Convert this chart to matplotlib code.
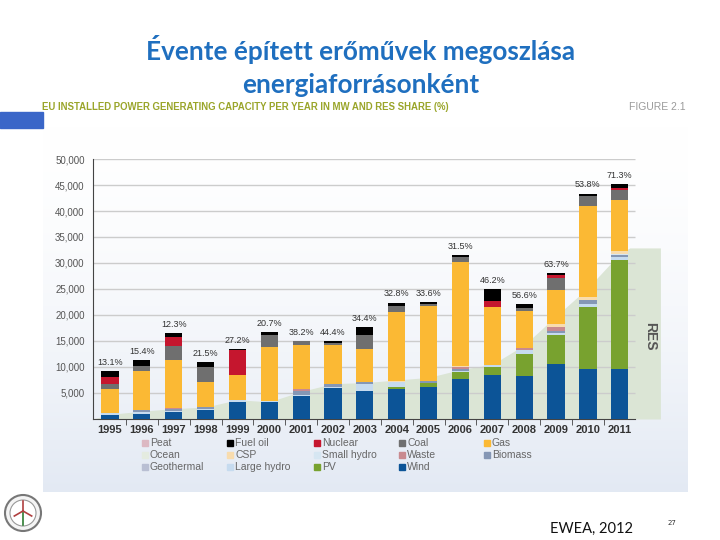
import numpy as np
import matplotlib.pyplot as plt
from matplotlib.patches import Rectangle, Circle

# -------------------------
# Data (MW installed per year)
# -------------------------
years = list(range(1995, 2012))

wind        = [814, 980, 1280, 1700, 3200, 3200, 4400, 5900, 5450, 5800, 6200, 7600, 8550, 8300, 10500, 9600, 9600]
pv          = [0, 0, 0, 0, 0, 0, 0, 0, 0, 300, 750, 1500, 1500, 4250, 5600, 12000, 21000]
large_hydro = [250, 300, 300, 250, 500, 300, 250, 300, 1250, 1000, 0, 200, 300, 650, 450, 450, 500]
geothermal  = [0, 0, 0, 0, 0, 0, 0, 0, 0, 0, 0, 0, 0, 0, 0, 0, 0]
biomass     = [0, 400, 350, 400, 0, 0, 700, 500, 450, 0, 400, 400, 0, 0, 450, 900, 400]
waste       = [0, 0, 150, 0, 0, 0, 400, 0, 0, 0, 0, 300, 0, 450, 700, 0, 0]
small_hydro = [0, 0, 0, 0, 0, 0, 0, 0, 0, 0, 0, 0, 0, 0, 0, 0, 250]
csp         = [0, 0, 0, 0, 0, 0, 0, 0, 0, 200, 0, 200, 0, 0, 500, 600, 500]
ocean       = [0, 0, 0, 0, 0, 0, 0, 0, 0, 0, 0, 0, 0, 0, 0, 0, 0]
gas         = [4750, 7600, 9250, 4800, 4700, 10300, 8500, 7450, 6250, 13300, 14350, 19900, 11100, 7050, 6600, 17500, 9800]
coal        = [900, 900, 2750, 2900, 0, 2450, 700, 450, 2700, 1150, 500, 1000, 0, 700, 2400, 1900, 2000]
nuclear     = [1350, 0, 1600, 0, 4900, 0, 0, 0, 0, 0, 0, 0, 1150, 0, 450, 0, 400]
fuel_oil    = [1200, 1150, 900, 850, 150, 450, 0, 450, 1550, 650, 300, 400, 2350, 650, 400, 400, 650]
peat        = [0, 0, 0, 0, 0, 0, 0, 0, 0, 0, 0, 0, 0, 0, 0, 0, 0]

res_share = ["13.1%", "15.4%", "12.3%", "21.5%", "27.2%", "20.7%", "38.2%", "44.4%", "34.4%",
             "32.8%", "33.6%", "31.5%", "46.2%", "56.6%", "63.7%", "53.8%", "71.3%"]

# RES capacity band behind the bars (MW)
res_mw = [900, 1500, 2000, 2300, 3700, 3300, 5300, 6800, 7000, 7500, 8000, 9500, 10500, 14200, 19800, 25200, 31800]
res_mw_end = 32900

# stacking order, bottom -> top
stack = [
    ("Wind", wind, "#0c5497"),
    ("PV", pv, "#78a22f"),
    ("Large hydro", large_hydro, "#c6dbef"),
    ("Geothermal", geothermal, "#b9bfd3"),
    ("Biomass", biomass, "#8597b5"),
    ("Waste", waste, "#c98a8f"),
    ("Small hydro", small_hydro, "#d6e6f2"),
    ("CSP", csp, "#f8dcae"),
    ("Ocean", ocean, "#e4ebe0"),
    ("Gas", gas, "#fbb934"),
    ("Coal", coal, "#6f6f6f"),
    ("Nuclear", nuclear, "#c5162e"),
    ("Fuel oil", fuel_oil, "#000000"),
    ("Peat", peat, "#dcb8c2"),
]
colors = {name: c for name, _, c in stack}

legend_rows = [
    ["Peat", "Fuel oil", "Nuclear", "Coal", "Gas"],
    ["Ocean", "CSP", "Small hydro", "Waste", "Biomass"],
    ["Geothermal", "Large hydro", "PV", "Wind"],
]

narrow = ["Liberation Sans Narrow", "Liberation Sans", "DejaVu Sans"]

# -------------------------
# Figure & slide decoration (pixel coordinates)
# -------------------------
W, H = 720, 540
fig = plt.figure(figsize=(7.2, 5.4), dpi=100)
bg = fig.add_axes([0, 0, 1, 1])
bg.set_xlim(0, W)
bg.set_ylim(H, 0)
bg.axis("off")

# panel with soft vertical gradient
grad = np.linspace(0, 1, 256) ** 1.6
top_c = np.array([1.0, 1.0, 1.0])
bot_c = np.array([0.89, 0.915, 0.955])
img = (top_c[None, :] * (1 - grad[:, None]) + bot_c[None, :] * grad[:, None])[:, None, :]
bg.imshow(img, extent=[43, 688, 492, 126], aspect="auto", zorder=0)

# blue tab on the left
bg.add_patch(Rectangle((0, 112), 43, 16, color="#3a66c8", zorder=1))

# slide title
fig.text(361 / W, 1 - 50 / H, "Évente épített erőművek megoszlása", ha="center", va="center",
         fontsize=18.8, fontweight="bold", color="#1f6fbf", family=["Lato", "DejaVu Sans"])
fig.text(361 / W, 1 - 85 / H, "energiaforrásonként", ha="center", va="center",
         fontsize=18.8, fontweight="bold", color="#1f6fbf", family=["Lato", "DejaVu Sans"])

# figure caption line
fig.text(42 / W, 1 - 107 / H, "EU INSTALLED POWER GENERATING CAPACITY PER YEAR IN MW AND RES SHARE (%)",
         ha="left", va="center", fontsize=6.9, fontweight="bold", color="#9aa52a", family=narrow)
fig.text(686 / W, 1 - 107 / H, "FIGURE 2.1", ha="right", va="center",
         fontsize=7.5, color="#9a9a9a", family=narrow)

# footer
fig.text(592 / W, 1 - 529 / H, "EWEA, 2012", ha="center", va="center",
         fontsize=10.5, color="#111111", family=["Lato", "DejaVu Sans"])
fig.text(672 / W, 1 - 523 / H, "27", ha="center", va="center", fontsize=5, color="#333333")

# little logo
bg.add_patch(Circle((23, 513), 18, facecolor="#f4f4f4", edgecolor="#777777", lw=1.5, zorder=2))
bg.add_patch(Circle((23, 513), 13, facecolor="#ffffff", edgecolor="#999999", lw=0.8, zorder=3))
bg.plot([23, 23], [511, 525], color="#2e7d32", lw=1.2, zorder=4)
for ang in (90, 210, 330):
    a = np.deg2rad(ang)
    bg.plot([23, 23 + 10 * np.cos(a)], [511, 511 - 10 * np.sin(a)], color="#b04040", lw=1.2, zorder=4)

# -------------------------
# Chart
# -------------------------
px_step = 31.86
x_left = 1995 - 17 / px_step
x_right = 1995 + 552 / px_step
x_grid_end = 1995 + 525 / px_step

ax = fig.add_axes([93 / W, 1 - 419 / H, (662 - 93) / W, (419 - 159) / H])
ax.set_facecolor("none")
ax.set_xlim(x_left, x_right)
ax.set_ylim(0, 50000)

# RES band
res_x = [x_left] + years + [2011 + 10 / px_step, x_right - 0.05]
res_y = [0] + res_mw + [res_mw_end, res_mw_end]
ax.fill_between(res_x, 0, res_y, color="#dbe5d5", lw=0, zorder=0)
ax.text(2011.95, 16000, "RES", rotation=-90, ha="center", va="center",
        fontsize=10, fontweight="bold", color="#555555", family=narrow)

# grid
for g in range(5000, 50001, 5000):
    ax.hlines(g, x_left, x_grid_end, color="#cccccc", lw=1, zorder=1)

# stacked bars
bottom = np.zeros(len(years))
for name, vals, col in stack:
    vals = np.array(vals, dtype=float)
    ax.bar(years, vals, bottom=bottom, width=0.54, color=col, lw=0, zorder=3)
    bottom += vals

for yr, tot, lab in zip(years, bottom, res_share):
    ax.annotate(lab, (yr, tot), xytext=(0, 3), textcoords="offset points",
                ha="center", va="bottom", fontsize=6.5, color="#333333", family=narrow)

# axes styling
for s in ("top", "right"):
    ax.spines[s].set_visible(False)
ax.spines["left"].set_color("#444444")
ax.spines["bottom"].set_color("#444444")
ax.spines["bottom"].set_bounds(x_left, x_grid_end)
ax.spines["left"].set_bounds(0, 50000)

ax.set_yticks(range(5000, 50001, 5000))
ax.set_yticklabels([f"{v:,}" for v in range(5000, 50001, 5000)], fontsize=7,
                   color="#555555", family=narrow)
ax.tick_params(axis="y", length=0, pad=6)

ax.set_xticks(years)
ax.set_xticklabels([str(y) for y in years], fontsize=8, color="#333333",
                   fontweight="bold", family=narrow)
ax.set_xticks([y + 0.5 for y in years[:-1]], minor=True)
ax.tick_params(axis="x", which="major", length=0, pad=4)
ax.tick_params(axis="x", which="minor", length=4, color="#444444", direction="out")

# legend, drawn as rows
col_x = [145, 230, 317, 402, 487]
row_y = [443, 455, 467]
for r, row in enumerate(legend_rows):
    for c, name in enumerate(row):
        bg.add_patch(Rectangle((col_x[c] - 3, row_y[r] - 3), 6, 6, color=colors[name], zorder=5))
        fig.text((col_x[c] + 5) / W, 1 - row_y[r] / H, name, ha="left", va="center",
                 fontsize=7.5, color="#666666", family=narrow)

fig.savefig("out.png", dpi=100)
